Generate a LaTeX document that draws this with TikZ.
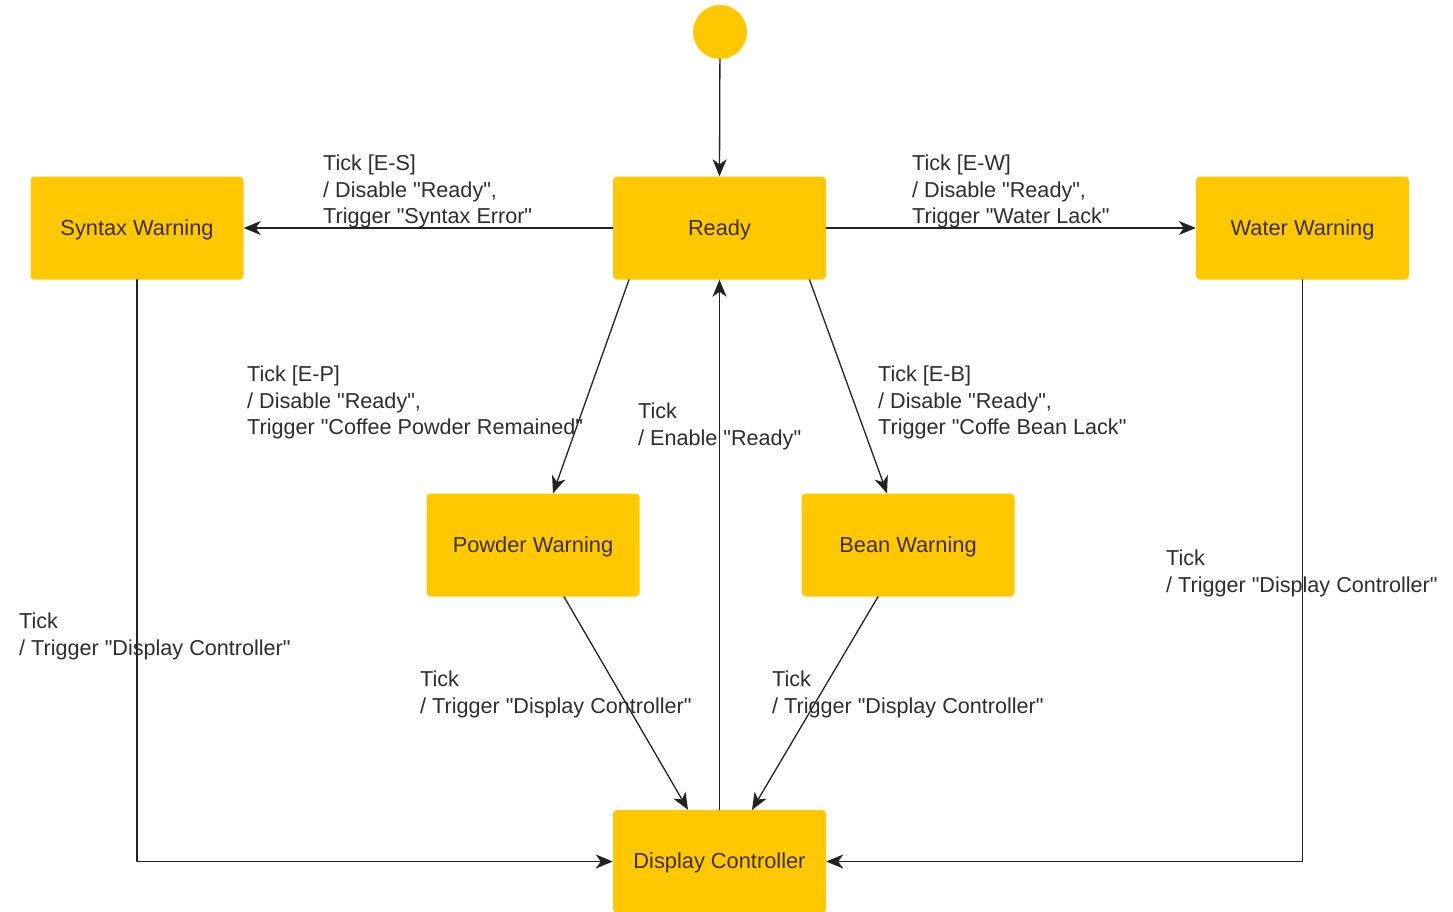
\documentclass[tikz,border=0pt]{standalone}
\usepackage{fontspec}
\setmainfont{Liberation Sans}
\usepackage{tikz}
\usetikzlibrary{arrows.meta,positioning}
\definecolor{stategold}{RGB}{255,200,0}
\definecolor{statetext}{RGB}{60,48,0}
\definecolor{linegray}{RGB}{34,34,34}
\definecolor{labelgray}{RGB}{45,45,45}
\newcommand{\q}{\textquotedbl}
\begin{document}
\begin{tikzpicture}[line cap=round,line join=round,>={Stealth[length=17pt,width=14pt,inset=5pt]},x=1pt,y=-1pt,
  statebox/.style={fill=stategold,rounded corners=4pt,minimum width=213pt,minimum height=103pt,inner sep=0pt,text height=15.5pt,text depth=1pt,text=statetext,font=\fontsize{21.8}{24}\selectfont},
  trans/.style={->,line width=1.3pt,draw=linegray},
  guard/.style={anchor=north west,inner sep=0pt,align=left,text=labelgray,font=\fontsize{21.6}{26.5}\selectfont}]
\useasboundingbox (0,0) rectangle (1453,911);
\node[circle,fill=stategold,minimum size=54pt,inner sep=0pt] (init) at (720,32) {};
\node[statebox] (ready) at (719.5,228) {Ready};
\node[statebox] (syntax) at (137,228) {Syntax Warning};
\node[statebox] (water) at (1302.5,228) {Water Warning};
\node[statebox] (powder) at (533,545) {Powder Warning};
\node[statebox] (bean) at (908,545) {Bean Warning};
\node[statebox] (display) at (719.5,861.5) {Display Controller};
\draw [trans] (init) -- (ready.north);
\draw [trans] (ready.west) -- (syntax.east);
\draw [trans] (ready.east) -- (water.west);
\draw [trans] ([xshift=-90.5pt]ready.south) -- ([xshift=20pt]powder.north);
\draw [trans] ([xshift=90pt]ready.south) -- ([xshift=-21pt]bean.north);
\draw [trans] (display.north) -- (ready.south);
\draw [trans] ([xshift=31pt]powder.south) -- ([xshift=-31.5pt]display.north);
\draw [trans] ([xshift=-30pt]bean.south) -- ([xshift=32.5pt]display.north);
\draw [trans] (syntax.south) |- (display.west);
\draw [trans] (water.south) |- (display.east);
\node[guard] (lblsyntax) at (323,155) {Tick [E-S]\\/ Disable \q Ready\q,\\Trigger \q Syntax Error\q};
\node[guard] (lblwater) at (912,155) {Tick [E-W]\\/ Disable \q Ready\q,\\Trigger \q Water Lack\q};
\node[guard] (lblpowder) at (247,366) {Tick [E-P]\\/ Disable \q Ready\q,\\Trigger \q Coffee Powder Remained\q};
\node[guard] (lblbean) at (878,366) {Tick [E-B]\\/ Disable \q Ready\q,\\Trigger \q Coffe Bean Lack\q};
\node[guard] (lblenable) at (638,403) {Tick\\/ Enable \q Ready\q};
\node[guard] (lblsyndisp) at (19,613) {Tick\\/ Trigger \q Display Controller\q};
\node[guard] (lblwatdisp) at (1166,550) {Tick\\/ Trigger \q Display Controller\q};
\node[guard] (lblpowdisp) at (420,671) {Tick\\/ Trigger \q Display Controller\q};
\node[guard] (lblbeandisp) at (772,671) {Tick\\/ Trigger \q Display Controller\q};
\end{tikzpicture}
\end{document}
